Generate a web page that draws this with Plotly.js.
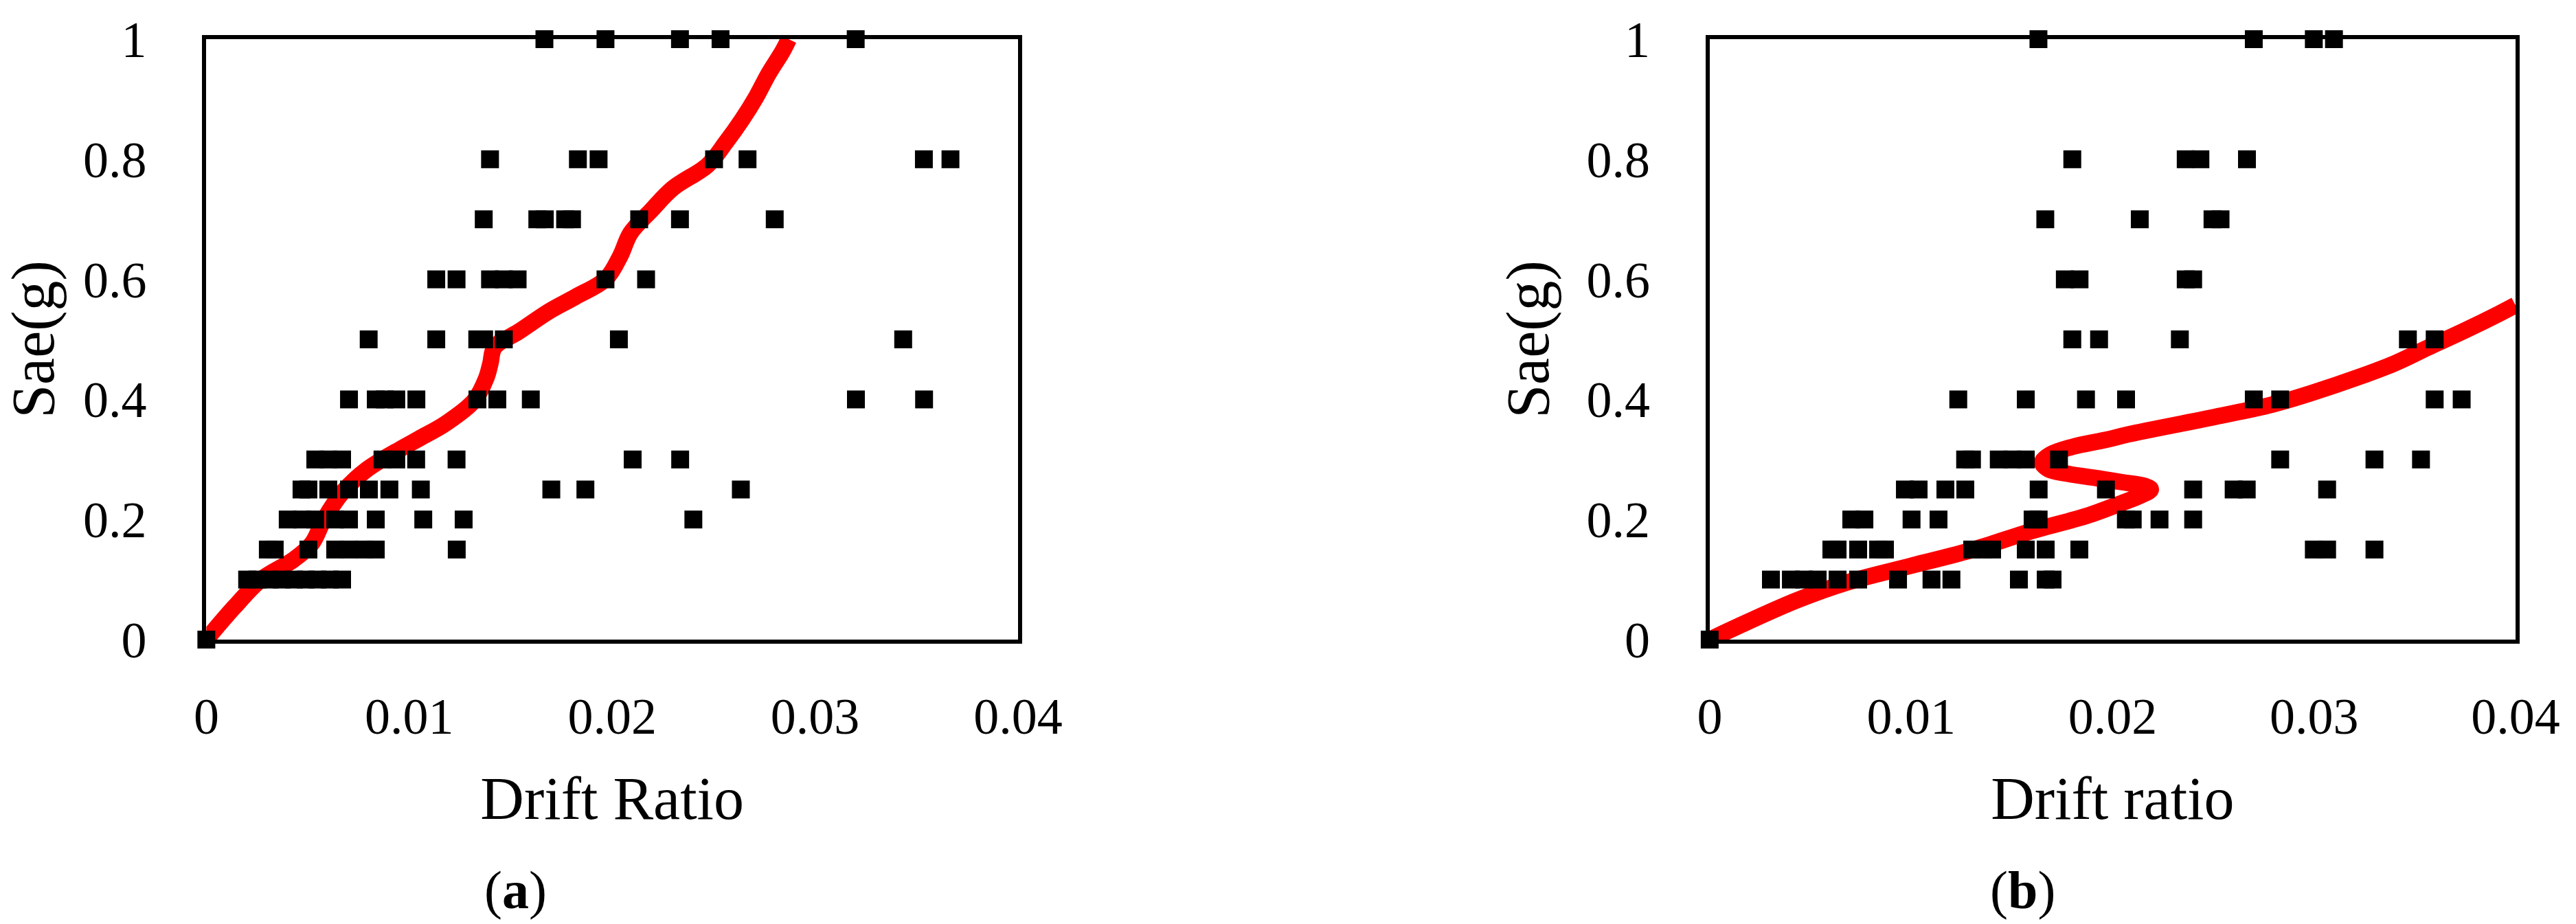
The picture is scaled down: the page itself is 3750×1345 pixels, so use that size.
<!DOCTYPE html>
<html>
<head>
<meta charset="utf-8">
<script src="https://cdn.plot.ly/plotly-3.0.1.min.js"></script>
<style>html,body{margin:0;padding:0;background:#fff;}#chart{width:3750px;height:1345px;}</style>
</head>
<body>
<div id="chart"></div>
<script>
// ---------- Panel (a) data ----------
const aPointsX = [
  0,
  0.00201, 0.00252, 0.0031, 0.00371, 0.00432, 0.00489, 0.00547, 0.00608, 0.00669,
  0.00303, 0.00337, 0.00503, 0.00635, 0.00703, 0.00777, 0.00835, 0.01234,
  0.00401, 0.00472, 0.00537, 0.00635, 0.00703, 0.00835, 0.01069, 0.01268, 0.0240,
  0.00469, 0.00503, 0.00601, 0.00703, 0.00801, 0.00902, 0.01057, 0.0170, 0.01868, 0.02634,
  0.00537, 0.00601, 0.00669, 0.00868, 0.00936, 0.01034, 0.01233, 0.02101, 0.02335,
  0.00703, 0.00835, 0.00879, 0.00936, 0.01035, 0.01336, 0.01434, 0.01599, 0.03201, 0.03537,
  0.0080, 0.01133, 0.01335, 0.01369, 0.01466, 0.02033, 0.03434,
  0.01133, 0.01233, 0.01398, 0.01466, 0.01534, 0.01967, 0.02167,
  0.01367, 0.01631, 0.01668, 0.01768, 0.01802, 0.02133, 0.02334, 0.02801,
  0.01398, 0.01831, 0.01933, 0.02502, 0.02667, 0.03536, 0.03667,
  0.01666, 0.01967, 0.02334, 0.02534, 0.0320
];
const aPointsY = [
  0,
  0.1, 0.1, 0.1, 0.1, 0.1, 0.1, 0.1, 0.1, 0.1,
  0.15, 0.15, 0.15, 0.15, 0.15, 0.15, 0.15, 0.15,
  0.2, 0.2, 0.2, 0.2, 0.2, 0.2, 0.2, 0.2, 0.2,
  0.25, 0.25, 0.25, 0.25, 0.25, 0.25, 0.25, 0.25, 0.25, 0.25,
  0.3, 0.3, 0.3, 0.3, 0.3, 0.3, 0.3, 0.3, 0.3,
  0.4, 0.4, 0.4, 0.4, 0.4, 0.4, 0.4, 0.4, 0.4, 0.4,
  0.5, 0.5, 0.5, 0.5, 0.5, 0.5, 0.5,
  0.6, 0.6, 0.6, 0.6, 0.6, 0.6, 0.6,
  0.7, 0.7, 0.7, 0.7, 0.7, 0.7, 0.7, 0.7,
  0.8, 0.8, 0.8, 0.8, 0.8, 0.8, 0.8,
  1, 1, 1, 1, 1
];
const aCurveX = [0, 0.0014, 0.0027, 0.0043, 0.0052, 0.0058, 0.0067, 0.0079, 0.0097, 0.0105, 0.0118, 0.0132, 0.0138, 0.0140, 0.0142, 0.0154, 0.0169, 0.0182, 0.0197, 0.0204, 0.0209, 0.0219, 0.0230, 0.0247, 0.0256, 0.0264, 0.0271, 0.0277, 0.0284, 0.0287];
const aCurveY = [0, 0.055, 0.1, 0.133, 0.16, 0.2, 0.245, 0.283, 0.32, 0.335, 0.36, 0.398, 0.436, 0.46, 0.487, 0.513, 0.547, 0.571, 0.601, 0.639, 0.677, 0.714, 0.752, 0.79, 0.828, 0.866, 0.904, 0.942, 0.98, 1.0];

// ---------- Panel (b) data ----------
const bPointsX = [
  0,
  0.00304, 0.00403, 0.00468, 0.00536, 0.00635, 0.00737, 0.00935, 0.01101, 0.012, 0.01535, 0.01668, 0.01702,
  0.00604, 0.00635, 0.00737, 0.00836, 0.0087, 0.01303, 0.01354, 0.01402, 0.01569, 0.01668, 0.01835, 0.02999, 0.03065, 0.033,
  0.00703, 0.00768, 0.01002, 0.01136, 0.01603, 0.01633, 0.02066, 0.021, 0.02233, 0.024,
  0.00969, 0.01037, 0.0117, 0.01269, 0.01633, 0.01967, 0.024, 0.02601, 0.02666, 0.03065,
  0.01268, 0.01302, 0.01435, 0.01503, 0.01569, 0.01734, 0.02832, 0.033, 0.03531,
  0.01234, 0.01569, 0.01868, 0.02067, 0.02701, 0.02832, 0.03599, 0.03733,
  0.018, 0.01933, 0.02334, 0.03466, 0.03599,
  0.01763, 0.01836, 0.02363, 0.024,
  0.01666, 0.02135, 0.02496, 0.02536,
  0.018, 0.02363, 0.02436, 0.02667,
  0.01632, 0.02701, 0.02999, 0.03099
];
const bPointsY = [
  0,
  0.1, 0.1, 0.1, 0.1, 0.1, 0.1, 0.1, 0.1, 0.1, 0.1, 0.1, 0.1,
  0.15, 0.15, 0.15, 0.15, 0.15, 0.15, 0.15, 0.15, 0.15, 0.15, 0.15, 0.15, 0.15, 0.15,
  0.2, 0.2, 0.2, 0.2, 0.2, 0.2, 0.2, 0.2, 0.2, 0.2,
  0.25, 0.25, 0.25, 0.25, 0.25, 0.25, 0.25, 0.25, 0.25, 0.25,
  0.3, 0.3, 0.3, 0.3, 0.3, 0.3, 0.3, 0.3, 0.3,
  0.4, 0.4, 0.4, 0.4, 0.4, 0.4, 0.4, 0.4,
  0.5, 0.5, 0.5, 0.5, 0.5,
  0.6, 0.6, 0.6, 0.6,
  0.7, 0.7, 0.7, 0.7,
  0.8, 0.8, 0.8, 0.8,
  1, 1, 1, 1
];
const bCurveX = [0, 0.0043, 0.0068, 0.0100, 0.0131, 0.0159, 0.0188, 0.0205, 0.0214, 0.0219, 0.0216, 0.0205, 0.0194, 0.0178, 0.0168, 0.0165, 0.0169, 0.0180, 0.0197, 0.0208, 0.0251, 0.0280, 0.0300, 0.0322, 0.0340, 0.0357, 0.0375, 0.0392, 0.0400];
const bCurveY = [0, 0.065, 0.095, 0.123, 0.150, 0.180, 0.207, 0.228, 0.240, 0.250, 0.256, 0.262, 0.268, 0.276, 0.284, 0.295, 0.308, 0.321, 0.333, 0.342, 0.371, 0.392, 0.412, 0.437, 0.460, 0.487, 0.515, 0.543, 0.557];

// ---------- Ticks and labels ----------
const xTickVals = [0, 0.01, 0.02, 0.03, 0.04];
const xTickText = ['0', '0.01', '0.02', '0.03', '0.04'];
const yTickVals = [0, 0.2, 0.4, 0.6, 0.8, 1];
const yTickText = ['0', '0.2', '0.4', '0.6', '0.8', '1'];
const xTitleA = 'Drift Ratio';
const xTitleB = 'Drift ratio';
const yTitle = 'Sae(g)';
const captions = ['(<b>a</b>)', '(<b>b</b>)'];

const FONT = 'Liberation Serif, Times New Roman, serif';
const lineColor = 'rgb(255,0,0)';

function curve(x, y, xa, ya) {
  return {x: x, y: y, xaxis: xa, yaxis: ya, type: 'scatter', mode: 'lines',
    line: {color: lineColor, width: 24, shape: 'spline', smoothing: 1},
    hoverinfo: 'skip', showlegend: false, cliponaxis: true};
}
function pts(x, y, xa, ya) {
  return {x: x, y: y, xaxis: xa, yaxis: ya, type: 'scatter', mode: 'markers',
    marker: {symbol: 'square', size: 26, color: '#000', line: {width: 0}},
    showlegend: false, cliponaxis: false};
}

const data = [
  curve(aCurveX, aCurveY, 'x', 'y'),
  pts(aPointsX, aPointsY, 'x', 'y'),
  curve(bCurveX, bCurveY, 'x2', 'y2'),
  pts(bPointsX, bPointsY, 'x2', 'y2')
];

function xAxis(domain, title, anchor) {
  return {
    domain: domain, anchor: anchor, range: [0, 0.04], autorange: false,
    tickvals: xTickVals, ticktext: xTickText, ticks: '', ticklabelstandoff: 42,
    showline: true, mirror: true, linecolor: '#000', linewidth: 6,
    showgrid: false, zeroline: false,
    tickfont: {family: FONT, size: 74, color: '#000'},
    title: {text: title, font: {family: FONT, size: 88, color: '#000'}, standoff: 50}
  };
}
function yAxis(domain, anchor) {
  return {
    domain: domain, anchor: anchor, range: [0, 1], autorange: false,
    tickvals: yTickVals, ticktext: yTickText, ticks: '', ticklabelstandoff: 66,
    showline: true, mirror: true, linecolor: '#000', linewidth: 6,
    showgrid: false, zeroline: false,
    tickfont: {family: FONT, size: 74, color: '#000'},
    title: {text: yTitle, font: {family: FONT, size: 88, color: '#000'}, standoff: 28}
  };
}

const layout = {
  width: 3750, height: 1345,
  margin: {l: 0, r: 0, t: 0, b: 0},
  paper_bgcolor: '#fff', plot_bgcolor: '#fff',
  showlegend: false,
  xaxis: xAxis([0.0801, 0.3952], xTitleA, 'y'),
  yaxis: yAxis([0.3078, 0.9576], 'x'),
  xaxis2: xAxis([0.6637, 0.9765], xTitleB, 'y2'),
  yaxis2: yAxis([0.3078, 0.9576], 'x2'),
  annotations: [
    {text: captions[0], xref: 'paper', yref: 'paper', x: 0.2, y: 0.037, xanchor: 'center', yanchor: 'middle',
     showarrow: false, font: {family: FONT, size: 78, color: '#000'}},
    {text: captions[1], xref: 'paper', yref: 'paper', x: 0.7853, y: 0.037, xanchor: 'center', yanchor: 'middle',
     showarrow: false, font: {family: FONT, size: 78, color: '#000'}}
  ]
};

Plotly.newPlot('chart', data, layout, {staticPlot: true, displayModeBar: false});
</script>
</body>
</html>
